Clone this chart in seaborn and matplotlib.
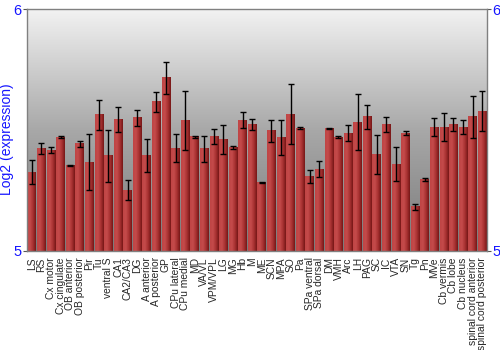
import numpy as np
import pandas as pd
import matplotlib
matplotlib.use("Agg")
import matplotlib.pyplot as plt
import seaborn as sns
from matplotlib.colors import LinearSegmentedColormap

regions = ["LS", "RS", "Cx motor", "Cx cingulate", "OB anterior", "OB posterior", "Pir", "Tu",
           "ventral S", "CA1", "CA2/CA3", "DG", "A anterior", "A posterior", "GP", "CPu lateral",
           "CPu medial", "MD", "VA/VL", "VPM/VPL", "LG", "MG", "Hb", "M", "ME", "SCN", "MPA", "SO",
           "Pa", "SPa ventral", "SPa dorsal", "DM", "VMH", "Arc", "LH", "PAG", "SC", "IC", "VTA",
           "SN", "Tg", "Pn", "MVe", "Cb vermis", "Cb lobe", "Cb nucleus",
           "spinal cord anterior", "spinal cord posterior"]
expression = [5.325, 5.425, 5.417, 5.471, 5.355, 5.443, 5.367, 5.562,
              5.393, 5.544, 5.251, 5.550, 5.396, 5.616, 5.715, 5.425,
              5.541, 5.472, 5.422, 5.474, 5.460, 5.427, 5.541, 5.523,
              5.283, 5.497, 5.468, 5.566, 5.508, 5.309, 5.337, 5.508,
              5.471, 5.487, 5.532, 5.554, 5.399, 5.523, 5.359, 5.487,
              5.182, 5.297, 5.511, 5.512, 5.523, 5.512, 5.554, 5.577]
error = [0.050, 0.023, 0.014, 0.004, 0.002, 0.012, 0.115, 0.062,
         0.108, 0.051, 0.041, 0.032, 0.068, 0.040, 0.065, 0.058,
         0.122, 0.003, 0.054, 0.032, 0.061, 0.006, 0.032, 0.024,
         0.002, 0.046, 0.072, 0.125, 0.004, 0.026, 0.033, 0.002,
         0.006, 0.033, 0.116, 0.048, 0.081, 0.032, 0.069, 0.008,
         0.012, 0.006, 0.037, 0.059, 0.027, 0.029, 0.085, 0.083]

df = pd.DataFrame({"region": regions, "expression": expression, "error": error})

sns.set_style("white")
plt.rcParams["font.family"] = ["Liberation Sans", "DejaVu Sans"]

fig = plt.figure(figsize=(5, 3.5), dpi=100)
ax = fig.add_axes([27 / 500, 1 - 251 / 350, 460 / 500, 242 / 350])

sns.barplot(data=df, x="region", y="expression", ax=ax, width=0.9,
            color="#b03030", errorbar=None, zorder=2)
n = len(regions)

# background gradient
bg = LinearSegmentedColormap.from_list("bg", ["#7a7a7a", "#a8a8a8", "#f2f2f2"])
grad = np.linspace(0, 1, 256).reshape(-1, 1)
ax.imshow(grad, cmap=bg, aspect="auto", origin="lower",
          extent=[-0.5, n - 0.5, 5, 6], zorder=0)

# horizontal gradient on bars
barcm = LinearSegmentedColormap.from_list("bar", ["#c04545", "#c44a4a", "#a83232", "#761616"])
hgrad = np.linspace(0, 1, 64).reshape(1, -1)
for p in list(ax.patches):
    x0, y0 = p.get_x(), p.get_y()
    w, h = p.get_width(), p.get_height()
    p.set_facecolor("none")
    p.set_edgecolor("none")
    ax.imshow(hgrad, cmap=barcm, aspect="auto",
              extent=[x0, x0 + w, y0, y0 + h], zorder=2)
ax.set_xlim(-0.5, n - 0.5)
ax.set_ylim(5, 6)

ax.errorbar(x=np.arange(n), y=df["expression"], yerr=df["error"],
            fmt="none", ecolor="black", elinewidth=1, capsize=2.2, capthick=1, zorder=3)

ax.set_yticks([5, 6])
ax.set_yticklabels(["5", "6"])
ax.tick_params(axis="y", colors="#555555", labelcolor="#1515ff", labelsize=10.5,
               left=True, right=True, labelleft=True, labelright=True, length=3, pad=1)
ax.tick_params(axis="x", bottom=False, labelsize=7.4, pad=1)
plt.setp(ax.get_xticklabels(), rotation=90)
ax.set_xlabel("")
ax.set_ylabel("Log2 (expression)", color="#1515ff", fontsize=10)
ax.yaxis.set_label_coords(-0.029, 0.463)
for s in ax.spines.values():
    s.set_color("#808080")
    s.set_linewidth(1)

fig.savefig("out.png", dpi=100)
